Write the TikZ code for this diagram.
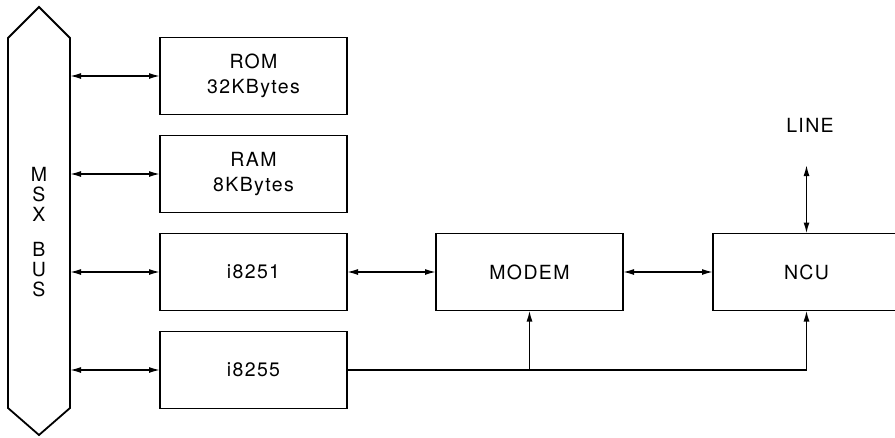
\documentclass[tikz,border=0pt]{standalone}
\usepackage{fontspec}
\setmainfont{TeX Gyre Heros}[LetterSpace=7]
\usepackage{tikz}
\usetikzlibrary{arrows.meta,positioning}

\tikzset{
  unitbox/.style={draw, line width=1.8pt, minimum width=187pt, minimum height=77pt,
                  inner sep=0pt, outer sep=0pt, align=center},
  bothtips/.style={{Latex[length=11pt,width=6pt]}-{Latex[length=11pt,width=6pt]}, line width=1.5pt},
  onetip/.style={-{Latex[length=11pt,width=6pt]}, line width=1.5pt}
}

\begin{document}
\begin{tikzpicture}[x=1pt, y=-1pt, font=\fontsize{19.5}{24.5}\selectfont]
    \useasboundingbox (0,0) rectangle (895,437);
    % the bus
    \draw[line width=1.8pt] (8,38) -- (39,7) -- (70,38) -- (70,408) -- (39,435) -- (8,408) -- cycle;
    \coordinate (busR) at (70,0);
    \node[align=center, font=\fontsize{19.5}{20}\selectfont] (bus) at (39,232)
      {M\\S\\X\\[15pt]B\\U\\S};

    \node[unitbox] (rom) at (253.5,76) {ROM\\32KBytes};
    \node[unitbox, below=21pt of rom] (ram) {RAM\\8KBytes};
    \node[unitbox, below=21pt of ram] (i8251) {i8251};
    \node[unitbox, below=21pt of i8251] (i8255) {i8255};
    \node[unitbox, right=89pt of i8251] (modem) {MODEM};
    \node[unitbox, right=90pt of modem] (ncu) {NCU};
    \node (line) at (810,125) {LINE};

    \foreach \blk in {rom,ram,i8251,i8255}
      \draw[bothtips] (\blk.west -| busR) -- (\blk.west);
    \draw[bothtips] (i8251) -- (modem);
    \draw[bothtips] (modem) -- (ncu);
    \coordinate (linetop) at (ncu.north |- 0,165);
    \draw[bothtips] (linetop) -- (ncu.north);
    \coordinate (tap) at (i8255.east -| modem.south);
    \draw[onetip] (i8255.east) -| (ncu.south);
    \draw[onetip] (tap) -- (modem.south);
  \end{tikzpicture}
\end{document}
